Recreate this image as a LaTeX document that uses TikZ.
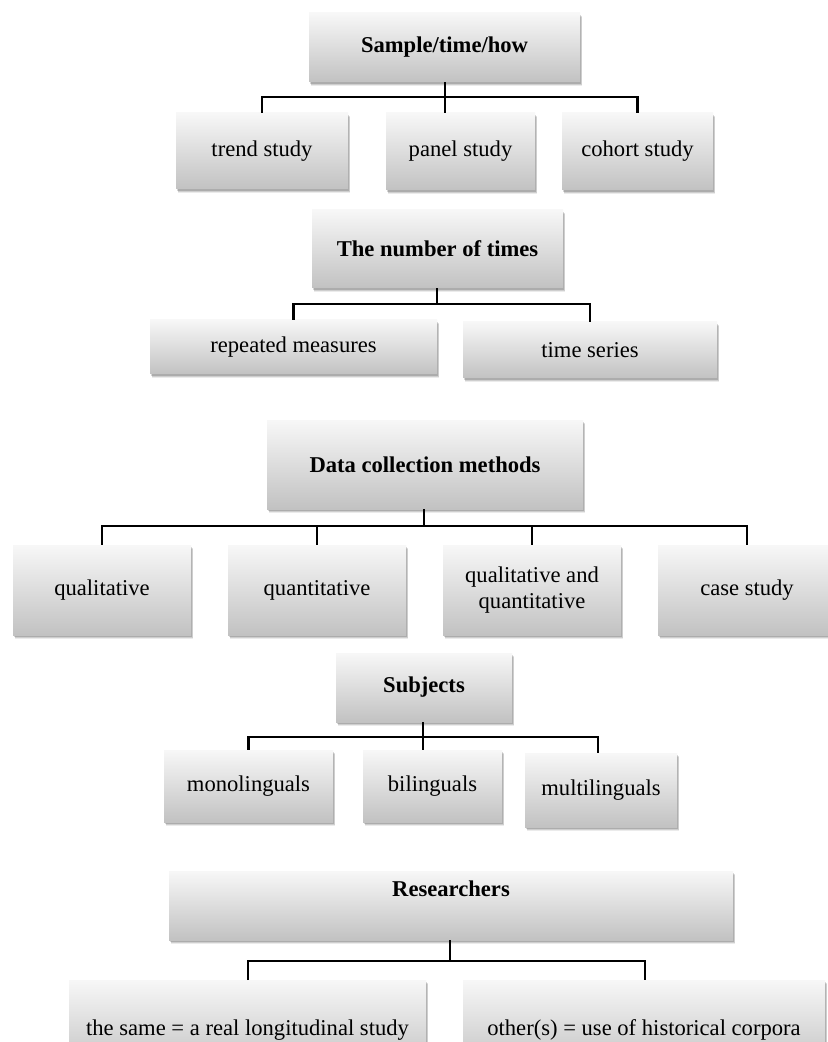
\documentclass[tikz,border=0pt]{standalone}
\usepackage{fontspec}
\setmainfont{Liberation Serif}
\usetikzlibrary{shadows}
\tikzset{
  box/.style={rectangle, inner sep=0pt, top color=gray!6, bottom color=gray!48,
    draw=none, align=center,
    general shadow={shadow xshift=1.1pt, shadow yshift=-2.2pt, fill=black, opacity=0.08},
    general shadow={shadow xshift=0.8pt, shadow yshift=-1.6pt, fill=black, opacity=0.12},
    general shadow={shadow xshift=0.5pt, shadow yshift=-1.0pt, fill=black, opacity=0.16},
    font=\fontsize{11.3}{12.6}\selectfont},
  hbox/.style={box, font=\fontsize{11.3}{12.6}\selectfont\bfseries},
  txt/.style={inner sep=0pt, font=\fontsize{11.3}{12.6}\selectfont},
  htxt/.style={txt, font=\fontsize{11.3}{12.6}\selectfont\bfseries},
  conn/.style={line width=1.1pt, black}
}
\begin{document}
\begin{tikzpicture}[x=0.5pt,y=-0.5pt]
\useasboundingbox (0,0) rectangle (828,1042);
\fill[white] (0,0) rectangle (828,1042);
\begin{scope}
\clip (0,0) rectangle (828,1042);
% ---- Sample/time/how
\node[hbox, minimum width=135.5pt, minimum height=34.5pt] (S) at (444.5,47.5) {Sample/time/how};
\node[box, minimum width=86pt, minimum height=38pt] (trend) at (262,151) {trend study};
\node[box, minimum width=74.5pt, minimum height=38.5pt] (panel) at (460.5,151.5) {panel study};
\node[box, minimum width=75.5pt, minimum height=38.5pt] (cohort) at (637.5,151.5) {cohort study};
\coordinate (j1) at (445,97);
\draw[conn] (S.south -| j1) -- (j1);
\draw[conn] (trend.north) |- (j1) -| (cohort.north);
\draw[conn] (j1) -- (j1 |- panel.north);
% ---- The number of times
\node[hbox, minimum width=125.5pt, minimum height=39pt] (N) at (437.5,249) {The number of times};
\node[box, minimum width=143.5pt, minimum height=27pt] (rep) at (293.5,347) {repeated measures};
\node[box, minimum width=127pt, minimum height=28pt] (ts) at (590,350) {time series};
\coordinate (j2) at (437,304);
\draw[conn] (N.south -| j2) -- (j2);
\draw[conn] (rep.north) |- (j2) -| (ts.north);
% ---- Data collection methods
\node[hbox, minimum width=158pt, minimum height=44.5pt] (D) at (425,464.5) {Data collection methods};
\node[box, minimum width=89pt, minimum height=45pt] (ql) at (102,590) {qualitative};
\node[box, minimum width=89pt, minimum height=45pt] (qn) at (317,590) {quantitative};
\node[box, minimum width=89pt, minimum height=45pt] (qq) at (532,590) {qualitative and\\quantitative};
\node[box, minimum width=89pt, minimum height=45pt] (cs) at (747,590) {case study};
\coordinate (j3) at (424,526);
\draw[conn] (D.south -| j3) -- (j3);
\draw[conn] (ql.north) |- (j3) -| (cs.north);
\draw[conn] (qn.north) -- (qn.north |- j3);
\draw[conn] (qq.north) -- (qq.north |- j3);
% ---- Subjects
\node[hbox, minimum width=88pt, minimum height=34.5pt] (Sb) at (424,687.5) {Subjects};
\node[box, minimum width=84.5pt, minimum height=36pt] (mono) at (248.5,786) {monolinguals};
\node[box, minimum width=69.5pt, minimum height=36pt] (bi) at (432.5,786) {bilinguals};
\node[box, minimum width=76pt, minimum height=37pt] (multi) at (601,790) {multilinguals};
\coordinate (j4) at (423,737);
\coordinate (m4) at (598,753);
\draw[conn] (Sb.south -| j4) -- (j4);
\draw[conn] (mono.north) |- (j4) -| (m4);
\draw[conn] (j4) -- (j4 |- bi.north);
% ---- Researchers
\node[box, minimum width=282pt, minimum height=34.5pt] (R) at (451,905.5) {};
\node[htxt] (Rt) at (451,889) {Researchers};
\node[box, minimum width=178.5pt, minimum height=45pt] (same) at (247.5,1025) {};
\node[box, minimum width=181pt, minimum height=45pt] (oth) at (644,1025) {};
\node[txt] (samet) at (247.5,1030) {the same = a real longitudinal study};
\node[txt] (otht) at (644,1030) {other(s) = use of historical corpora};
\coordinate (j5) at (450,961);
\coordinate (l5) at (248,980);
\coordinate (r5) at (645,980);
\draw[conn] (R.south -| j5) -- (j5);
\draw[conn] (l5) |- (j5) -| (r5);
\end{scope}
\end{tikzpicture}
\end{document}
